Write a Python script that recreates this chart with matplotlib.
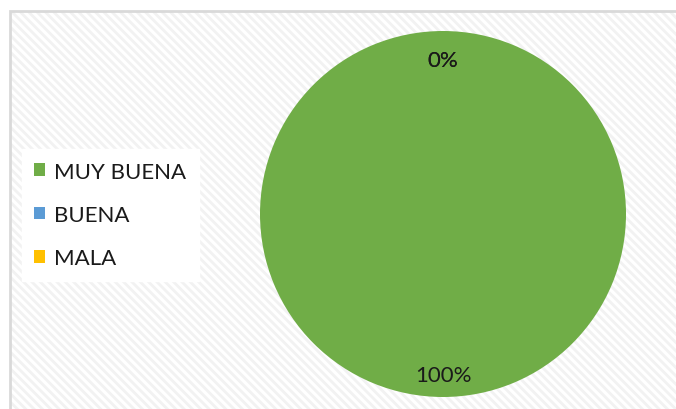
import matplotlib

matplotlib.use("Agg")
import matplotlib.pyplot as plt
from matplotlib.patches import Rectangle

categorias = ["MUY BUENA", "BUENA", "MALA"]
porcentajes = [100, 0, 0]
colores = ["#70AD47", "#5B9BD5", "#FFC000"]

plt.rcParams["font.family"] = ["Lato", "DejaVu Sans"]
plt.rcParams["hatch.linewidth"] = 2.0

W, H = 676, 410
fig = plt.figure(figsize=(W / 100, H / 100), dpi=100)
fig.patch.set_facecolor("white")

# fondo del área del gráfico: rayado diagonal gris claro con borde
x0, y0 = 10 / W, 0
alto = (H - 12) / H
fig.patches.append(Rectangle((x0, y0 - 0.05), 1.0, alto + 0.05, transform=fig.transFigure,
                             facecolor="white", edgecolor="#f2f2f2", linewidth=0,
                             hatch="\\\\\\\\", zorder=0))
fig.patches.append(Rectangle((x0, y0 - 0.05), 1.0, alto + 0.05, transform=fig.transFigure,
                             fill=False, edgecolor="#d9d9d9", linewidth=2, zorder=1))

# pastel centrado en (443, 215) px con radio ~183 px
cx, cy, r = 443, 215, 183
ax = fig.add_axes([(cx - r) / W, (H - cy - r) / H, 2 * r / W, 2 * r / H])
ax.set_zorder(2)
ax.set_facecolor("none")
wedges, _, autotexts = ax.pie(
    porcentajes,
    colors=colores,
    startangle=90,
    counterclock=False,
    autopct="%1.0f%%",
    pctdistance=0.86,
    radius=1.0,
    textprops={"fontsize": 16, "color": "#1a1a1a"},
)
# pequeño ajuste vertical de las etiquetas de porcentaje
autotexts[0].set_y(autotexts[0].get_position()[1] - 0.02)
for t in autotexts[1:]:
    t.set_y(t.get_position()[1] - 0.017)
ax.set_xlim(-1, 1)
ax.set_ylim(-1, 1)
ax.set_aspect("equal")

leg = fig.legend(
    wedges,
    categorias,
    loc="center left",
    bbox_to_anchor=(22 / W, 1 - 216 / H),
    fontsize=16,
    frameon=True,
    fancybox=False,
    handlelength=0.5,
    handleheight=0.5,
    handletextpad=0.4,
    labelspacing=1.05,
    borderpad=0.55,
    borderaxespad=0,
)
leg.set_zorder(3)
leg.get_frame().set_facecolor("white")
leg.get_frame().set_edgecolor("white")
leg.get_frame().set_alpha(1)
for t in leg.get_texts():
    t.set_color("#1a1a1a")

fig.savefig("out.png", dpi=100)
